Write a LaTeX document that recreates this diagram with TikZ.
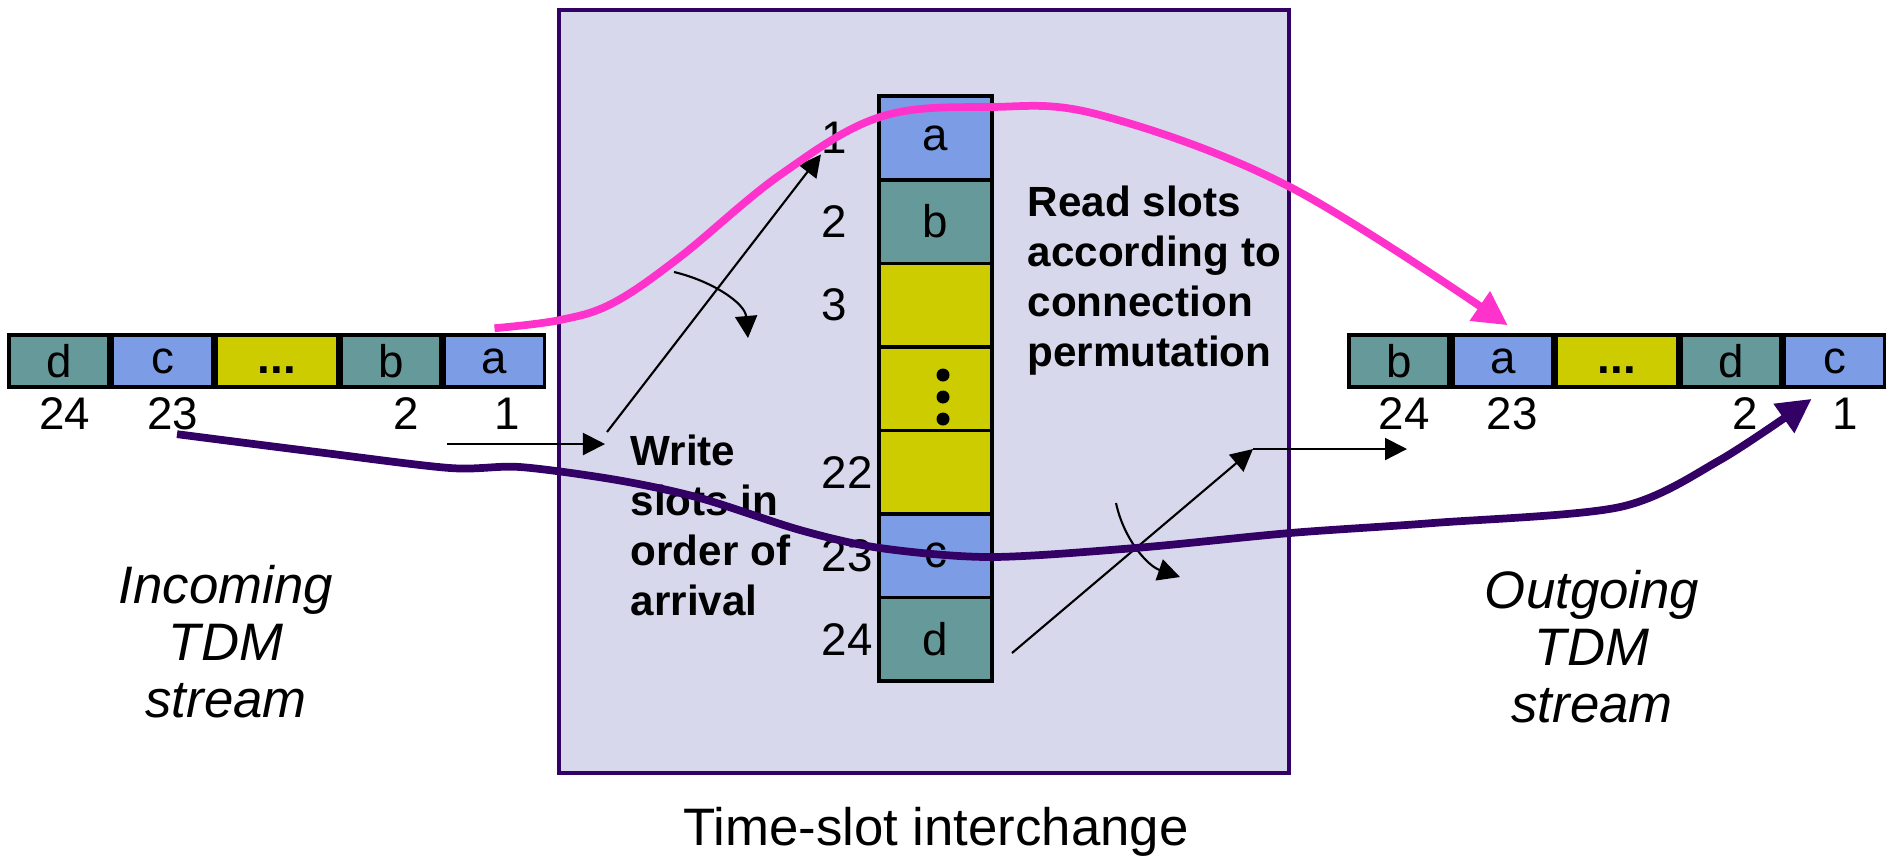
\documentclass[tikz,border=0pt]{standalone}
\usepackage{fontspec}
\setmainfont{Liberation Sans}
\usepackage{xcolor}
\usetikzlibrary{arrows.meta,positioning}

\definecolor{slotblue}{RGB}{124,157,229}
\definecolor{slotteal}{RGB}{102,153,153}
\definecolor{slotyel}{RGB}{204,204,0}
\definecolor{tsifill}{RGB}{216,216,236}
\definecolor{tsiline}{RGB}{51,0,102}
\definecolor{pinkline}{RGB}{255,51,204}

\begin{document}
\begin{tikzpicture}[x=0.01cm, y=-0.01cm]
\tikzset{
  slot/.style ={draw, line width=1pt, minimum width=1.0cm, minimum height=0.52cm,
                inner sep=0pt, font=\fontsize{13}{15}\selectfont},
  sblu/.style ={slot, fill=slotblue},
  stel/.style ={slot, fill=slotteal},
  syel/.style ={slot, fill=slotyel, minimum width=1.21cm},
  mem/.style  ={draw, line width=1pt, minimum width=1.13cm, minimum height=0.835cm,
                inner sep=0pt, outer sep=0pt, font=\fontsize{13}{15}\selectfont},
  num/.style  ={inner sep=0pt, font=\fontsize{13}{15}\selectfont},
  note/.style ={inner sep=0pt, align=left, font=\fontsize{12}{14.2}\selectfont\bfseries},
  strm/.style ={inner sep=0pt, align=center, font=\fontsize{15}{16.2}\selectfont\itshape},
  aK/.style={-{Triangle[length=0.22cm,width=0.22cm]}, line width=0.6pt},
  aP/.style={-{Triangle[length=0.34cm,width=0.34cm]}, line width=2.2pt, draw=pinkline},
  aV/.style={-{Triangle[length=0.34cm,width=0.34cm]}, line width=2.2pt, draw=tsiline}
}
\useasboundingbox (0,0) rectangle (1891,856);
% interchange box
\node (tsi)[draw=tsiline, fill=tsifill, line width=1pt, minimum width=7.30cm,
            minimum height=7.63cm] at (924,391.5) {};
\node (cap)[anchor=base, inner sep=0pt, font=\fontsize{15}{18}\selectfont] at (936,845) {Time-slot interchange};
% memory column
\node (m1)[mem, fill=slotblue] at (935.5,138) {a};
\node (m2)[mem, fill=slotteal, below=0pt of m1] {b};
\node (m3)[mem, fill=slotyel, below=0pt of m2] {};
\node (m4)[mem, fill=slotyel, below=0pt of m3] {};
\node (m22)[mem, fill=slotyel, below=0pt of m4] {};
\node (m23)[mem, fill=slotblue, below=0pt of m22] {c};
\node (m24)[mem, fill=slotteal, below=0pt of m23] {d};
\foreach \dy in {375,397,419} \fill (943,\dy) circle[radius=0.065cm];
\foreach \r in {1,2,3,22,23,24}
  \node (n\r)[num, anchor=west] at ([xshift=-0.58cm]m\r.west) {\r};
% incoming stream
\node (ia)[sblu] at (494.5,361) {a};
\node (ib)[stel, left=0pt of ia] {b};
\node (idots)[syel, left=0pt of ib] {\vphantom{a}\textbf{...}};
\node (ic)[sblu, left=0pt of idots] {c};
\node (id)[stel, left=0pt of ic] {d};
\node (i24)[num, anchor=base] at (65,429) {24};
\node (i23)[num, anchor=base] at (173,429) {23};
\node (i2)[num, anchor=base] at (406,429) {2};
\node (i1)[num, anchor=base] at (507,429) {1};
% outgoing stream
\node (oc)[sblu] at (1834.5,361) {c};
\node (od)[stel, left=0pt of oc] {d};
\node (odots)[syel, left=0pt of od] {\vphantom{a}\textbf{...}};
\node (oa)[sblu, left=0pt of odots] {a};
\node (ob)[stel, left=0pt of oa] {b};
\node (o24)[num, anchor=base] at (1404,429) {24};
\node (o23)[num, anchor=base] at (1512,429) {23};
\node (o2)[num, anchor=base] at (1745,429) {2};
\node (o1)[num, anchor=base] at (1845,429) {1};
% texts
\node (wr)[note, anchor=north west] at (630,434) {Write\\slots in\\order of\\arrival};
\node (rd)[note, anchor=north west] at (1027,185) {Read slots\\according to\\connection\\permutation};
\node (inc)[strm, anchor=north] at (226,565) {Incoming\\TDM\\stream};
\node (outg)[strm, anchor=north] at (1592,570) {Outgoing\\TDM\\stream};
% write / read arrows
\coordinate (w0) at (447,444);
\coordinate (w1) at (605,444);
\coordinate (w2) at (607,432);
\coordinate (r0) at (1012,653);
\coordinate (r1) at (1253,449);
\coordinate (r2) at (1407,449);
\draw[aK] (w0) -- (w1);
\draw[aK] (w2) -- (n1.south west);
\draw[aK] (r0) -- (r1);
\draw[aK] (r1) -- (r2);
\coordinate (t0) at (674,272);
\coordinate (t1) at (748,338);
\coordinate (u0) at (1116,503);
\coordinate (u1) at (1180,577);
\draw[aK] (t0) .. controls (712,281) and (745,303) .. (t1);
\draw[aK] (u0) .. controls (1124,540) and (1148,566) .. (u1);
% slot paths
\draw[aP] plot[smooth, tension=0.6] coordinates {([yshift=0.05cm]ia.north) (560,320) (613,303)
  (680,257) (780,175) (880,117) (990,107) (1100,115) (1290,187) ([xshift=0.05cm,yshift=0.08cm]oa.north)};
\draw[aV] plot[smooth, tension=0.5] coordinates {([xshift=0.04cm,yshift=-0.04cm]i23.south) (317,452)
  (450,468) (520,467) (617,480) (700,498) (800,530) (880,548) (990,557)
  (1135,548) (1290,533) (1433,523) (1620,507) (1720,460) ([xshift=-0.2cm,yshift=-0.02cm]o1.north west)};
\end{tikzpicture}
\end{document}
